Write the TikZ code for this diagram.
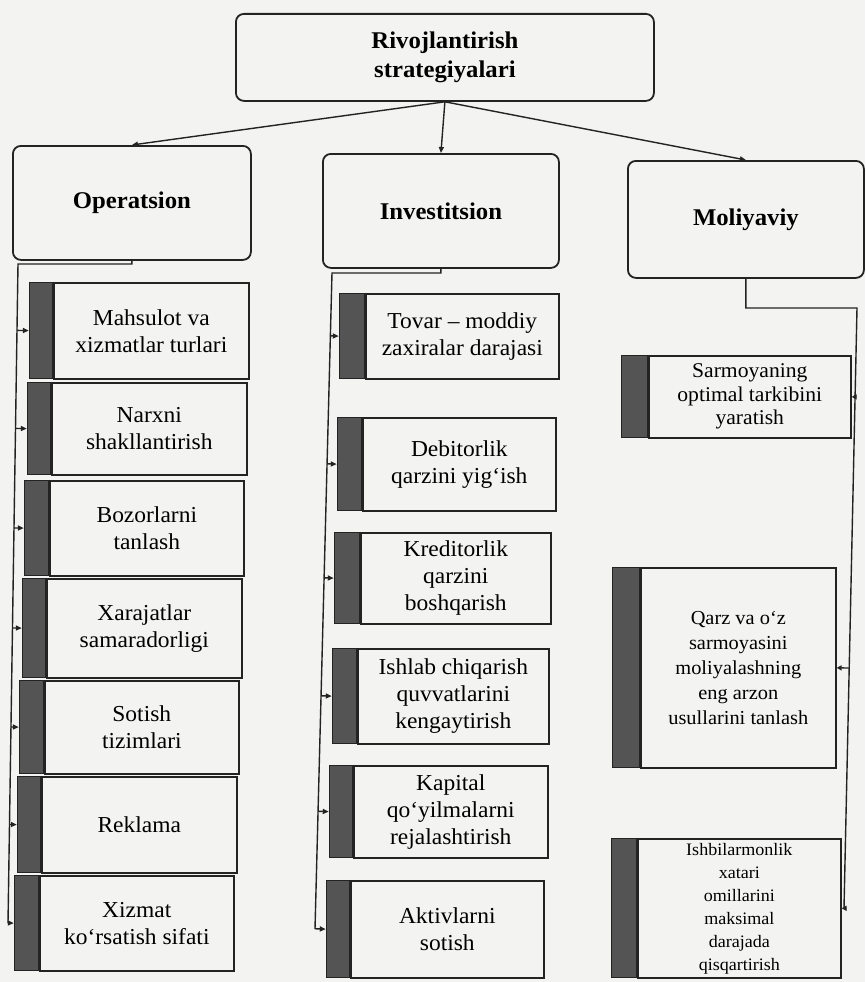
\documentclass[tikz,border=0pt]{standalone}
\usepackage{fontspec}
\setmainfont{Liberation Serif}[FakeStretch=1.03]
\usetikzlibrary{arrows.meta,calc}
\definecolor{bg}{RGB}{243,243,241}
\definecolor{ink}{RGB}{35,35,35}
\definecolor{barc}{RGB}{84,84,84}
\newcommand\cb[8]{%
  \node[cbox,#7,minimum width={#4-#3},minimum height={#6-#5},anchor=north west] (#1) at (#3,#5) {#8};
  \node[cbar,minimum width={#3-#2},minimum height={#6-#5},anchor=north east] (#1b) at (#1.north west) {};
}
\begin{document}
\begin{tikzpicture}[x=1pt,y=-1pt,
  cat/.style={draw=ink,line width=1.8pt,rounded corners=8pt,align=center,inner sep=0pt,
    font=\fontsize{24}{29}\selectfont\bfseries},
  cbox/.style={draw=ink,line width=1.6pt,align=center,inner sep=0pt,
    font=\fontsize{22.8}{27}\selectfont},
  cbar/.style={draw=ink,fill=barc,line width=1.2pt,inner sep=0pt},
  conn/.style={draw=ink,line width=1.4pt},
  arr/.style={conn,-{Triangle[length=6pt,width=5pt]}}]
\fill[bg] (0,0) rectangle (865,982);
\useasboundingbox (0,0) rectangle (865,982);

% top and category boxes
\node[cat,minimum width=418,minimum height=87,anchor=north west] (top) at (235,13) {Rivojlantirish\\strategiyalari};
\node[cat,minimum width=238,minimum height=114,anchor=north west] (op) at (12,145) {Operatsion};
\node[cat,minimum width=236,minimum height=114,anchor=north west] (inv) at (322,153) {Investitsion};
\node[cat,minimum width=236,minimum height=117,anchor=north west] (mol) at (627,160) {Moliyaviy};

\draw[arr] (top.south) -- (op.north);
\draw[arr] (top.south) -- (inv.north);
\draw[arr] (top.south) -- (mol.north);

% Operatsion children
\cb{o1}{30}{53}{248}{282}{378}{}{Mahsulot va\\xizmatlar turlari}
\cb{o2}{28}{51}{246}{382}{474}{}{Narxni\\shakllantirish}
\cb{o3}{25}{49}{243}{480}{575}{}{Bozorlarni\\tanlash}
\cb{o4}{23}{46}{241}{578}{677}{}{Xarajatlar\\samaradorligi}
\cb{o5}{20}{44}{238}{680}{773}{}{Sotish\\tizimlari}
\cb{o6}{18}{41}{236}{776}{872}{}{Reklama}
\cb{o7}{15}{39}{233}{875}{970}{}{Xizmat\\ko‘rsatish sifati}

\coordinate (otop) at (18,264);
\coordinate (obot) at (8,923);
\draw[conn] (op.south) |- (otop) -- (obot);
\foreach \n in {o1,o2,o3,o4,o5,o6,o7}
  \draw[arr] ($(otop)!(\n b.west)!(obot)$) -- (\n b.west);

% Investitsion children
\cb{i1}{340}{365}{558}{293}{378}{}{Tovar – moddiy\\zaxiralar darajasi}
\cb{i2}{338}{362}{555}{417}{510}{}{Debitorlik\\qarzini yig‘ish}
\cb{i3}{335}{360}{550}{532}{623}{}{Kreditorlik\\qarzini\\boshqarish}
\cb{i4}{333}{357}{548}{648}{743}{}{Ishlab chiqarish\\quvvatlarini\\kengaytirish}
\cb{i5}{330}{353}{547}{765}{857}{}{Kapital\\qo‘yilmalarni\\rejalashtirish}
\cb{i6}{327}{350}{543}{880}{977}{}{Aktivlarni\\sotish}

\coordinate (itop) at (332,273);
\coordinate (ibot) at (315,929);
\draw[conn] (inv.south) |- (itop) -- (ibot);
\foreach \n in {i1,i2,i3,i4,i5,i6}
  \draw[arr] ($(itop)!(\n b.west)!(ibot)$) -- (\n b.west);

% Moliyaviy children
\cb{m1}{622}{648}{850}{355}{437}{font=\fontsize{21}{23.5}\selectfont}{Sarmoyaning\\optimal tarkibini\\yaratish}
\cb{m2}{613}{640}{835}{567}{767}{font=\fontsize{19.8}{25}\selectfont}{Qarz va o‘z\\sarmoyasini\\moliyalashning\\eng arzon\\usullarini tanlash}
\cb{m3}{612}{637}{840}{838}{977}{font=\fontsize{17.5}{23}\selectfont}{Ishbilarmonlik\\xatari\\omillarini\\maksimal\\darajada\\qisqartirish}

\coordinate (mtop) at (857,308);
\coordinate (mbot) at (844,908);
\draw[conn] (mol.south) |- (mtop) -- (mbot);
\foreach \n in {m1,m2,m3}
  \draw[conn,-{Triangle[length=5pt,width=5pt]}] ($(mtop)!(\n.east)!(mbot)$) -- (\n.east);
\end{tikzpicture}
\end{document}
